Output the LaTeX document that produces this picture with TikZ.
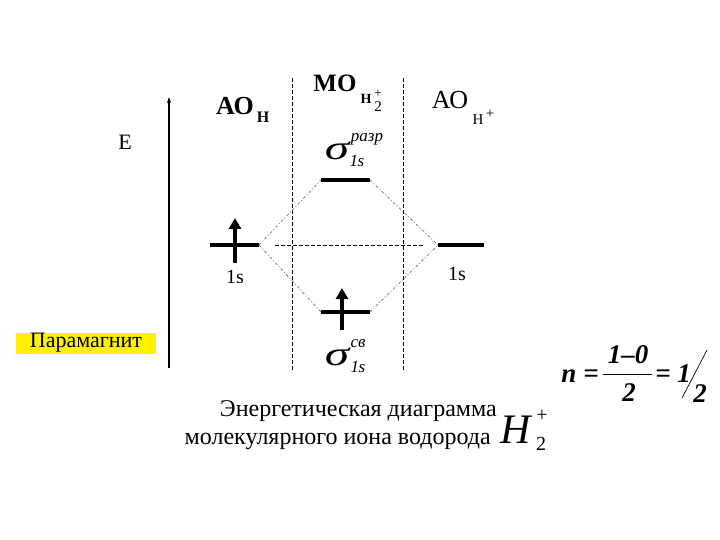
\documentclass[tikz,border=0pt]{standalone}
\usepackage{fontspec}
\usepackage{graphicx}
\setmainfont{Liberation Serif}
\usetikzlibrary{arrows.meta}
\newcommand{\wsig}{\scalebox{1.45}[1]{σ}}
\begin{document}
\begin{tikzpicture}[x=1pt,y=-1pt,
  lvl/.style={line width=3.5pt},
  spin/.style={line width=3.2pt,-{Triangle[length=11pt,width=12pt]}},
  vdash/.style={line width=0.6pt,dash pattern=on 4pt off 2pt},
  corr/.style={gray,line width=0.8pt,dash pattern=on 3pt off 2pt on 1pt off 2pt},
  txt/.style={inner sep=0pt,anchor=base}]
\useasboundingbox (0,0) rectangle (720,540);
% axis
\coordinate (ax0) at (169,368);
\coordinate (ax1) at (169,97);
\draw[line width=1.3pt,-{Stealth[length=6pt,width=4pt]}] (ax0) -- (ax1);
\node[txt,font=\fontsize{22}{24}\selectfont] (E) at (125,150) {Е};
% dashed vertical separators
\coordinate (d1a) at (292,78); \coordinate (d1b) at (292,372);
\coordinate (d2a) at (403,78); \coordinate (d2b) at (403,372);
\draw[vdash] (d1a) -- (d1b);
\draw[vdash] (d2a) -- (d2b);
% headings
\node[txt,font=\fontsize{26}{30}\bfseries\selectfont] (aoh) at (235,115) {АО};
\node[txt,font=\fontsize{16}{18}\bfseries\selectfont] (aohs) at (263,123) {Н};
\node[txt,font=\fontsize{25}{28}\bfseries\selectfont] (mo) at (335,92) {МО};
\node[txt,font=\fontsize{14}{16}\bfseries\selectfont] (mon) at (366,104) {Н};
\node[txt,font=\fontsize{13}{15}\selectfont] (mop) at (378,98) {+};
\node[txt,font=\fontsize{15}{17}\selectfont] (mo2) at (378,112) {2};
\node[txt,font=\fontsize{26}{30}\selectfont] (ao2) at (450,109) {АО};
\node[txt,font=\fontsize{15}{17}\selectfont] (ao2s) at (478,125) {Н};
\node[txt,font=\fontsize{15}{17}\selectfont] (ao2p) at (490,119) {+};
% sigma labels
\node[txt,font=\fontsize{34}{38}\itshape\selectfont] (sa) at (337,160) {\wsig};
\node[txt,font=\fontsize{17}{19}\itshape\selectfont] (sas) at (357,167) {1\kern-0.5pt s};
\node[txt,font=\fontsize{17}{19}\itshape\selectfont] (sap) at (367,142) {разр};
\node[txt,font=\fontsize{34}{38}\itshape\selectfont] (sb) at (337,365) {\wsig};
\node[txt,font=\fontsize{17}{19}\itshape\selectfont] (sbs) at (358,372) {1\kern-0.5pt s};
\node[txt,font=\fontsize{17}{19}\itshape\selectfont] (sbp) at (358,347) {св};
% levels
\coordinate (la) at (210,245); \coordinate (lb) at (259,245);
\coordinate (ra) at (438,245); \coordinate (rb) at (484,245);
\coordinate (ta) at (321,180); \coordinate (tb) at (370,180);
\coordinate (ba) at (321,312); \coordinate (bb) at (370,312);
\draw[lvl] (la) -- (lb);
\draw[lvl] (ra) -- (rb);
\draw[lvl] (ta) -- (tb);
\draw[lvl] (ba) -- (bb);
% correlation lines
\draw[corr] (lb) -- (ta);
\draw[corr] (lb) -- (ba);
\draw[corr] (tb) -- (ra);
\draw[corr] (bb) -- (ra);
\coordinate (h1) at (275,245); \coordinate (h2) at (425,245);
\draw[vdash] (h1) -- (h2);
% spins
\coordinate (s1a) at (235,263); \coordinate (s1b) at (235,218);
\coordinate (s2a) at (342,330); \coordinate (s2b) at (342,288);
\draw[spin] (s1a) -- (s1b);
\draw[spin] (s2a) -- (s2b);
\node[txt,font=\fontsize{20}{22}\selectfont] (l1) at (235,283) {1s};
\node[txt,font=\fontsize{20}{22}\selectfont] (l2) at (457,280) {1s};
% paramagnetic
\node[fill=yellow,minimum width=140pt,minimum height=21pt,inner sep=0pt,font=\fontsize{22}{24}\selectfont] (pm) at (86,343) {Парамагнит};
% formula
\begin{scope}[every node/.style={txt,font=\fontsize{27}{30}\bfseries\itshape\selectfont}]
\node (fn) at (569,382) {n};
\node (fe1) at (591,382) {=};
\node (fnum) at (628,363) {1–0};
\node (fden) at (629,401) {2};
\node (fe2) at (663,382) {=};
\node (f1) at (684,382) {1};
\node (f2) at (700,402) {2};
\end{scope}
\coordinate (fb1) at (603,374); \coordinate (fb2) at (652,374);
\draw[line width=1pt] (fb1) -- (fb2);
\coordinate (sl1) at (682,398); \coordinate (sl2) at (707,350);
\draw[line width=0.7pt] (sl1) -- (sl2);
% caption
\node[txt,anchor=base east,font=\fontsize{24}{26}\selectfont] (c1) at (497,416) {Энергетическая диаграмма};
\node[txt,anchor=base east,font=\fontsize{24}{26}\selectfont] (c2) at (491,444) {молекулярного иона водорода};
\node[txt,font=\fontsize{42}{46}\itshape\selectfont] (ch) at (516,443) {H};
\node[txt,font=\fontsize{20}{22}\selectfont] (c2s) at (541,450) {2};
\node[txt,font=\fontsize{20}{22}\selectfont] (c2p) at (542,421) {+};
\end{tikzpicture}
\end{document}
